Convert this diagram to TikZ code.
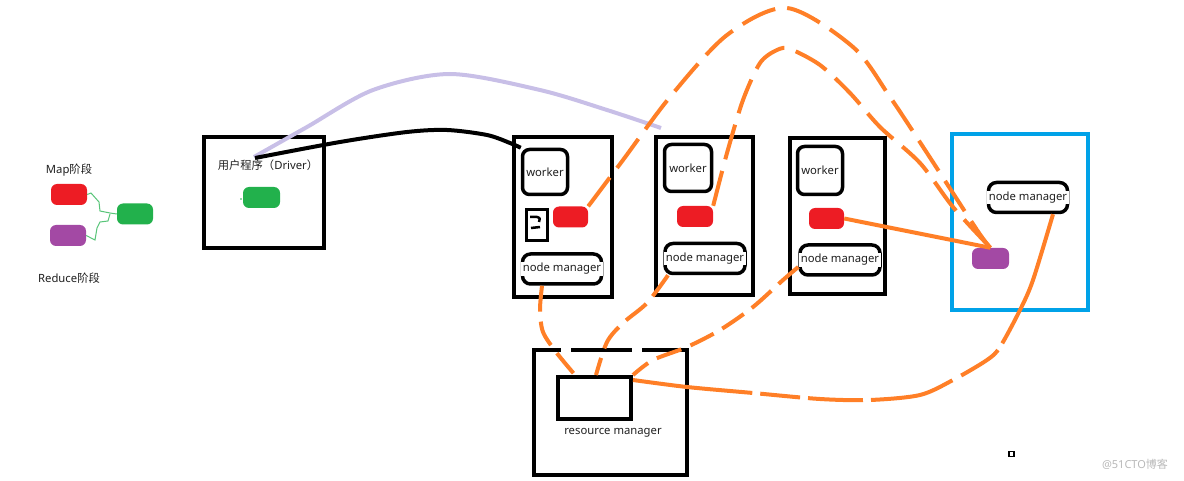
\documentclass[tikz,border=0pt]{standalone}
\usepackage{fontspec}
\setmainfont{Noto Sans}
\newfontfamily\cjk{Noto Sans CJK SC}
\definecolor{ored}{HTML}{ED1C24}
\definecolor{opurple}{HTML}{A349A4}
\definecolor{ogreen}{HTML}{22B14C}
\definecolor{oorange}{HTML}{FF7F27}
\definecolor{olav}{HTML}{C8BFE7}
\definecolor{oblue}{HTML}{00A2E8}
\begin{document}
\begin{tikzpicture}[x=1pt,y=-1pt,
  every node/.style={font=\fontsize{11.3}{13}\selectfont, text=black!88},
  frame/.style={draw=black, line width=4pt, inner sep=0pt},
  wk/.style={draw=black, line width=3.5pt, rounded corners=7pt, inner sep=0pt},
  nmb/.style={draw=black, line width=3.5pt, rounded corners=8pt, inner sep=0pt, minimum width=80pt, minimum height=30pt},
  nmt/.style={fill=white, inner xsep=2pt, inner ysep=1pt},
  blob/.style={rounded corners=6pt, inner sep=0pt, minimum width=36pt, minimum height=21pt},
  ora/.style={draw=oorange, line width=4pt},
  odash/.style={ora, dash pattern=on 36pt off 12pt},
  odash2/.style={ora, dash pattern=on 26pt off 10pt}]
\path[use as bounding box] (0,0) rectangle (1184,481);

% legend
\node (maplbl) at (69,170) {Map{\cjk 阶段}};
\node[blob, fill=ored] (mred) at (69,194.5) {};
\node[blob, fill=opurple] (mpur) at (68,235.5) {};
\node[blob, fill=ogreen] (mgreen) at (135,214) {};
\node (redlbl) at (69,278) {Reduce{\cjk 阶段}};
\draw[ogreen!75, line width=1pt] (mred.east) -- (91,193) -- (99,202) -- (100,211) -- (110,213) -- (mgreen.west);
\draw[ogreen!75, line width=1pt] (mpur.east) -- (95,240) -- (97,228) -- (100,222) -- (108,221) -- (110,214);

% driver
\node[frame, line width=4.5pt, minimum width=120pt, minimum height=111pt] (drv) at (264,192.5) {};
\node (drvlbl) at (268,165) {{\cjk 用户程序（}Driver{\cjk ）}};
\node[blob, fill=ogreen, minimum width=37pt] (dgreen) at (261.5,197.5) {};
\fill[ogreen] (241,199) circle (0.8pt);

% node 1
\node[frame, minimum width=98pt, minimum height=160pt] (n1) at (563,217) {};
\node[wk, minimum width=45pt, minimum height=45pt] (w1) at (545,172) {worker};
\node[draw, line width=3pt, minimum width=21pt, minimum height=31pt, inner sep=0pt] (sm) at (537,225) {};
\draw[line width=2.5pt] (530,217) -- (537,217) .. controls (540,218) .. (539,222);
\draw[line width=2.5pt] (531,228) -- (540,227);
\node[blob, fill=ored, minimum width=35pt] (r1) at (570.5,217) {};
\node[nmb, minimum width=79pt] (nm1) at (562,269) {};
\node[nmt] at (nm1) {node manager};

% node 2
\node[frame, minimum width=97pt, minimum height=158pt] (n2) at (704,216) {};
\node[wk, minimum width=47pt, minimum height=47pt] (w2) at (688,168) {worker};
\node[blob, fill=ored] (r2) at (695,216.5) {};
\node[nmb] (nm2) at (705,258.5) {};
\node[nmt] at (nm2) {node manager};

% node 3
\node[frame, minimum width=95pt, minimum height=156pt] (n3) at (837,216) {};
\node[wk, minimum width=45pt, minimum height=48pt] (w3) at (820,170.5) {worker};
\node[blob, fill=ored, minimum width=35pt] (r3) at (826.5,218.5) {};
\node[nmb] (nm3) at (840,260) {};
\node[nmt] at (nm3) {node manager};

% blue node
\node[frame, draw=oblue, minimum width=136pt, minimum height=176pt] (bl) at (1020,222) {};
\node[nmb, minimum width=79pt] (nm4) at (1028,197.5) {};
\node[nmt] at (nm4) {node manager};
\node[blob, fill=opurple, minimum width=37pt] (p4) at (990.5,258.5) {};

% resource manager
\node[frame, minimum width=153pt, minimum height=125pt] (rmo) at (610.5,412.5) {};
\fill[white] (561,344) rectangle (571,352);
\fill[white] (632,344) rectangle (642,352);
\node[frame, minimum width=73pt, minimum height=42pt] (rmi) at (594.5,398) {};
\node (rmlbl) at (613,433) {resource manager};

\node[draw, line width=1.5pt, minimum size=5pt, inner sep=0pt] (sq) at (1011.5,454) {};
\node[text=black!28, font=\fontsize{11}{13}\selectfont] (wm) at (1135,464) {@51CTO{\cjk 博客}};

% connectors
\coordinate (ds) at (254,157);
\coordinate (le) at (661,128);
\coordinate (bs) at (255,158);
\draw[olav, line width=4pt] plot[smooth] coordinates {(ds) (307,127) (373,90) (450,74) (540,90) (607,110) (le)};
\draw[black, line width=4pt] plot[smooth] coordinates {(bs) (340,142) (407,132) (447,130) (487,135) (510,143) (w1.north west)};

\draw[odash] plot[smooth] coordinates {(r1.north east) (623,160) (670,97) (727,35) (787,8) (853,47) (890,97) (927,153) (977,230) (p4.north)};
\draw[odash] plot[smooth] coordinates {(r2.north east) (727,153) (743,100) (760,63) (777,50) (790,49) (820,65) (850,93) (880,127) (920,163) (953,207) (p4.north)};
\draw[ora] (r3.east) -- (p4.north);

\draw[odash2] plot[smooth] coordinates {([xshift=-20pt]nm1.south) (540,310) (543,332) (556,352) ([xshift=19pt]rmi.north west)};
\draw[odash2] plot[smooth] coordinates {([xshift=-37pt]nm2.south) (647,303) (623,323) (607,342) ([xshift=40pt]rmi.north west)};
\draw[odash2] plot[smooth] coordinates {([yshift=-7pt]nm3.west) (783,280) (753,307) (720,330) (687,347) (653,360) (rmi.north east)};
\draw[ora, dash pattern=on 120pt off 8pt on 40pt off 8pt on 55pt off 8pt on 85pt off 10pt on 45pt off 8pt on 300pt] plot[smooth] coordinates {([yshift=-5pt]rmi.north east) (687,387) (753,393) (820,399) (870,400) (920,395) (953,380) (987,360) (1000,347) (1020,310) (1033,280) ([xshift=25pt]nm4.south)};
\end{tikzpicture}
\end{document}
